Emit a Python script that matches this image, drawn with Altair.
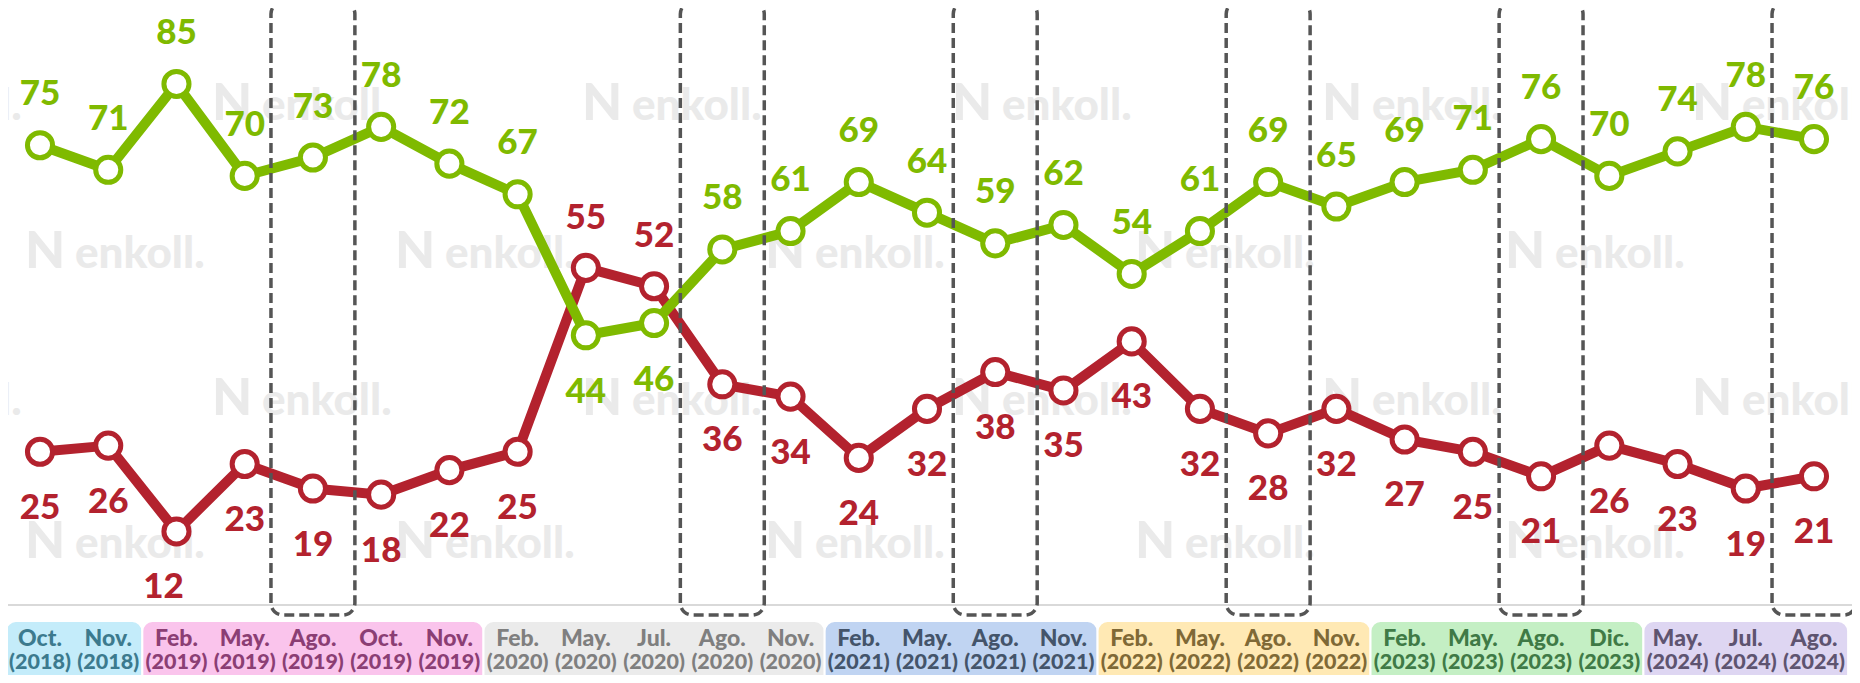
import itertools
import altair as alt
import pandas as pd

# ---------------- data ----------------
months = ["Oct.", "Nov.", "Feb.", "May.", "Ago.", "Oct.", "Nov.", "Feb.", "May.", "Jul.",
          "Ago.", "Nov.", "Feb.", "May.", "Ago.", "Nov.", "Feb.", "May.", "Ago.", "Nov.",
          "Feb.", "May.", "Ago.", "Dic.", "May.", "Jul.", "Ago."]
years = (["2018"] * 2 + ["2019"] * 5 + ["2020"] * 5 + ["2021"] * 4 +
         ["2022"] * 4 + ["2023"] * 4 + ["2024"] * 3)
green_vals = [75, 71, 85, 70, 73, 78, 72, 67, 44, 46, 58, 61, 69, 64, 59, 62, 54, 61,
              69, 65, 69, 71, 76, 70, 74, 78, 76]
red_vals = [25, 26, 12, 23, 19, 18, 22, 25, 55, 52, 36, 34, 24, 32, 38, 35, 43, 32,
            28, 32, 27, 25, 21, 26, 23, 19, 21]

year_fill = {"2018": "#C4ECFA", "2019": "#FAC4EC", "2020": "#EBEBEB", "2021": "#C0D4F2",
             "2022": "#FFE9B4", "2023": "#C4EFC4", "2024": "#DED6F2"}
year_text = {"2018": "#3C7A8E", "2019": "#8B3E74", "2020": "#7F7F7F", "2021": "#44546A",
             "2022": "#7F6936", "2023": "#3F7A46", "2024": "#5E5470"}

# label placement exceptions (series default: green above, red below)
green_below = {8, 9}
red_above = {8, 9}
red_left = {2}

GREEN = "#7FBA00"
RED = "#B3222E"
GRID = "#555555"
WM = "#EAEAEA"
FONT = "Lato"
WEIGHT = 900

n = len(months)
idx = list(range(n))

XS = alt.Scale(domain=[0, n - 1], range=[32, 1806])
YS = alt.Scale(domain=[0, 100], range=[597, -16])
PX_PER_I = (1806 - 32) / (n - 1)
PX_PER_V = (597 + 16) / 100.0


def xq(field):
    return alt.X(f"{field}:Q", scale=XS, axis=None)


def yq(field):
    return alt.Y(f"{field}:Q", scale=YS, axis=None)


layers = []

# ---------------- watermarks (decoration) ----------------
wm_rows = [97, 245, 392, 535]           # plot-pixel centre of each watermark row
wm_rows_start = [204, 17, 204, 17]      # plot-pixel x of logo in each row
wm = []
for ry, sx in zip(wm_rows, wm_rows_start):
    for k in range(-1, 6):
        lx = sx + 370 * k
        if lx < -200 or lx > 1900:
            continue
        wm.append({"i": (lx - 32) / PX_PER_I, "v": (597 - (ry + 15)) / PX_PER_V,
                   "i2": (lx + 50 - 32) / PX_PER_I})
wm_df = pd.DataFrame(wm)
layers.append(alt.Chart(wm_df).mark_text(text="N", font=FONT, fontWeight=WEIGHT,
                                         fontSize=52, color=WM, align="left",
                                         baseline="alphabetic")
              .encode(x=xq("i"), y=yq("v")))
layers.append(alt.Chart(wm_df).mark_text(text="enkoll.", font=FONT, fontWeight=WEIGHT,
                                         fontSize=44, color=WM, align="left",
                                         baseline="alphabetic")
              .encode(x=xq("i2"), y=yq("v")))

# ---------------- baseline ----------------
layers.append(alt.Chart(pd.DataFrame({"v": [0]})).mark_rule(color="#D9D9D9", strokeWidth=2)
              .encode(y=yq("v"), x=alt.value(0), x2=alt.value(1844)))

# ---------------- series ----------------
def series_layers(vals, color):
    df = pd.DataFrame({"i": idx, "v": vals})
    line = alt.Chart(df).mark_line(color=color, strokeWidth=10).encode(x=xq("i"), y=yq("v"))
    pts = alt.Chart(df).mark_point(shape="circle", filled=True, fill="white", stroke=color,
                                   strokeWidth=5, size=630, opacity=1, fillOpacity=1,
                                   strokeOpacity=1).encode(x=xq("i"), y=yq("v"))
    return [line, pts]


layers += series_layers(red_vals, RED)
layers += series_layers(green_vals, GREEN)


def label_layer(vals, keep, color, dy, dx=0):
    df = pd.DataFrame({"i": [i for i in idx if i in keep],
                       "v": [vals[i] for i in idx if i in keep],
                       "t": [str(vals[i]) for i in idx if i in keep]})
    return (alt.Chart(df).mark_text(font=FONT, fontWeight=WEIGHT, fontSize=35, color=color,
                                    baseline="middle", align="center", dy=dy, dx=dx)
            .encode(x=xq("i"), y=yq("v"), text="t:N"))


all_i = set(idx)
layers.append(label_layer(green_vals, all_i - green_below, GREEN, -51))
layers.append(label_layer(green_vals, green_below, GREEN, 57))
layers.append(label_layer(red_vals, all_i - red_above - red_left, RED, 56))
layers.append(label_layer(red_vals, red_left, RED, 56, dx=-13))
layers.append(label_layer(red_vals, red_above, RED, -50))

# ---------------- dashed highlight boxes (Ago.) ----------------
ago = [i for i, m in enumerate(months) if m == "Ago."]
box_df = pd.DataFrame({"a": [i - 0.615 for i in ago], "b": [i + 0.615 for i in ago]})
layers.append(alt.Chart(box_df).mark_rect(fill="transparent", stroke=GRID, strokeWidth=3.5,
                                          strokeDash=[10, 5], cornerRadius=12)
              .encode(x=xq("a"), x2="b:Q", y=alt.value(-6), y2=alt.value(607)))

# ---------------- category table ----------------
groups = []
pos = 0
for yr, grp in itertools.groupby(years):
    cnt = len(list(grp))
    groups.append({"a": pos - 0.5, "b": pos + cnt - 0.5, "fill": year_fill[yr]})
    pos += cnt
grp_df = pd.DataFrame(groups)
layers.append(alt.Chart(grp_df).mark_rect(cornerRadius=10, stroke="white", strokeWidth=2)
              .encode(x=xq("a"), x2="b:Q", y=alt.value(613), y2=alt.value(700),
                      fill=alt.Fill("fill:N", scale=None)))

cat_df = pd.DataFrame({"i": idx, "m": months, "y": [f"({y})" for y in years],
                       "c": [year_text[y] for y in years]})
layers.append(alt.Chart(cat_df).mark_text(font=FONT, fontWeight=WEIGHT, fontSize=23,
                                          baseline="middle")
              .encode(x=xq("i"), y=alt.value(631), text="m:N",
                      color=alt.Color("c:N", scale=None)))
layers.append(alt.Chart(cat_df).mark_text(font=FONT, fontWeight=WEIGHT, fontSize=21.5,
                                          baseline="middle")
              .encode(x=xq("i"), y=alt.value(655), text="y:N",
                      color=alt.Color("c:N", scale=None)))

chart = (alt.layer(*layers)
         .properties(width=1844, height=667, padding=0, autosize="none", background="white")
         .configure_view(stroke=None))

chart.save("out.html", embed_options={"renderer": "svg", "actions": False})
